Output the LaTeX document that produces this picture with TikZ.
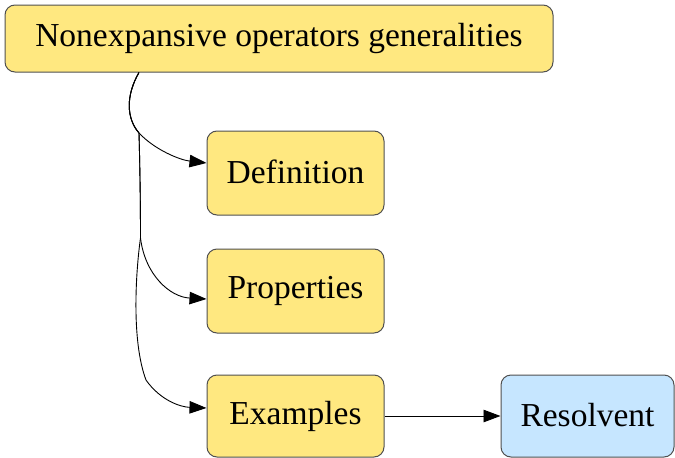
\documentclass[tikz,border=0pt]{standalone}
\usepackage{fontspec}
\setmainfont{Liberation Serif}
\usetikzlibrary{arrows.meta}
\definecolor{boxyellow}{RGB}{255,232,128}
\definecolor{boxblue}{RGB}{198,230,255}
\definecolor{boxedge}{RGB}{80,80,80}
\tikzset{
  box/.style={draw=boxedge, line width=1pt, rounded corners=10pt, fill=boxyellow,
    inner sep=0pt, font=\fontsize{33.5}{40}\selectfont},
  bluebox/.style={box, fill=boxblue},
  link/.style={draw=black, line width=0.9pt, -{Triangle[length=17pt,width=12.5pt]}}
}
\begin{document}
\begin{tikzpicture}[x=1pt,y=-1pt]
\useasboundingbox (0,0) rectangle (675,458);
\node[box, minimum width=548pt, minimum height=67pt] (top) at (279,38.5) {\raisebox{1.5pt}{Nonexpansive operators generalities}};
\node[box, minimum width=177pt, minimum height=84pt] (def) at (295.5,173) {\raisebox{2pt}{Definition}};
\node[box, minimum width=177pt, minimum height=84pt] (prop) at (295.5,291) {\raisebox{2pt}{Properties}};
\node[box, minimum width=177pt, minimum height=82pt] (ex) at (295.5,416) {\raisebox{2pt}{Examples}};
\node[bluebox, minimum width=173pt, minimum height=82pt] (res) at (587.5,416) {\raisebox{2pt}{Resolvent}};

\coordinate (src) at ([xshift=-140pt]top.south);
\coordinate (split1) at (139,133);
\coordinate (split2) at (140.5,238);

\draw[link] (src) .. controls (126,95) and (126,118) .. (split1)
  .. controls (155,150) and (180,160) .. ([yshift=10pt]def.west);
\draw[link] (src) .. controls (126,95) and (126,118) .. (split1)
  .. controls (140,170) and (140.5,205) .. (split2)
  .. controls (145,275) and (170,297) .. ([yshift=-8pt]prop.west);
\draw[link] (src) .. controls (126,95) and (126,118) .. (split1)
  .. controls (140,170) and (140.5,205) .. (split2)
  .. controls (136,270) and (131,340) .. (146,380)
  .. controls (160,400) and (180,407) .. ([yshift=8pt]ex.west);
\draw[link] (ex.east) -- (res.west);
\end{tikzpicture}
\end{document}
